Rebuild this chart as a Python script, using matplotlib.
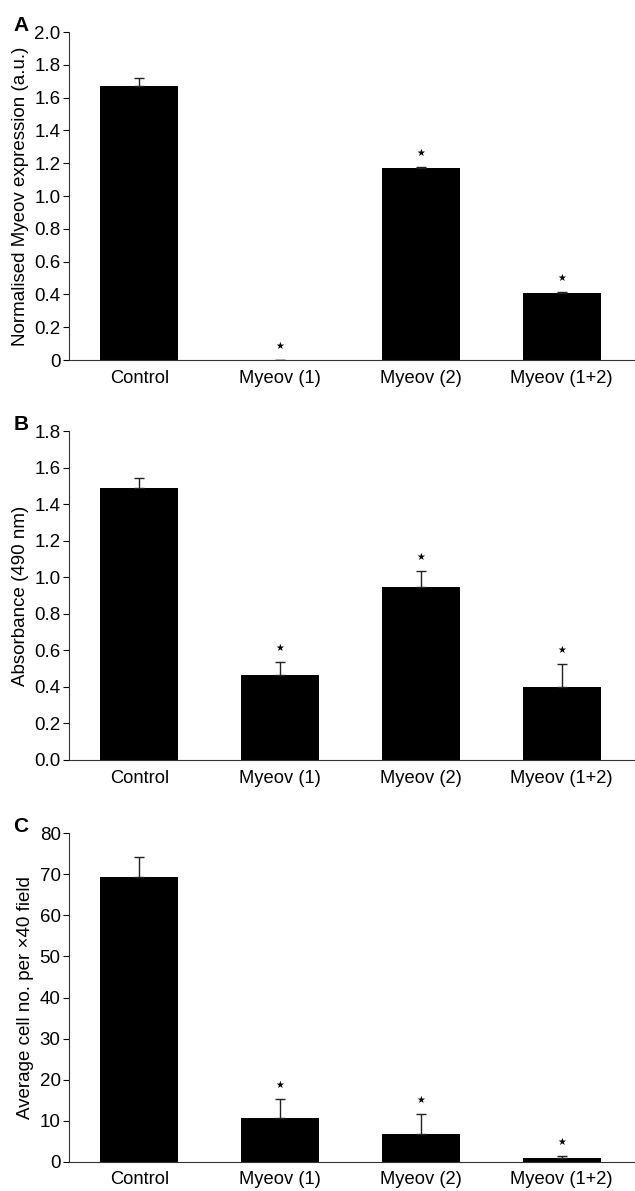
import numpy as np
import matplotlib
matplotlib.use('Agg')
import matplotlib.pyplot as plt

plt.rcParams['font.family'] = ['Liberation Sans', 'DejaVu Sans']

groups = ['Control', 'Myeov (1)', 'Myeov (2)', 'Myeov (1+2)']

# panel A: normalised Myeov expression
expr_mean = [1.67, 0.003, 1.17, 0.41]
expr_err = [0.05, 0.0, 0.005, 0.003]
expr_sig = [False, True, True, True]

# panel B: absorbance (490 nm)
abs_mean = [1.486, 0.465, 0.946, 0.40]
abs_err = [0.059, 0.07, 0.088, 0.125]
abs_sig = [False, True, True, True]

# panel C: cell counts
cell_mean = [69.3, 10.6, 6.75, 0.9]
cell_err = [5.0, 4.75, 4.8, 0.5]
cell_sig = [False, True, True, True]

panels = [
    ('A', expr_mean, expr_err, expr_sig, 'Normalised Myeov expression (a.u.)',
     np.arange(0, 2.01, 0.2), ['0', '0.2', '0.4', '0.6', '0.8', '1.0', '1.2', '1.4', '1.6', '1.8', '2.0'],
     [0.9731, 0.6977]),
    ('B', abs_mean, abs_err, abs_sig, 'Absorbance (490 nm)',
     np.arange(0, 1.81, 0.2), ['0.0', '0.2', '0.4', '0.6', '0.8', '1.0', '1.2', '1.4', '1.6', '1.8'],
     [0.6381, 0.3619]),
    ('C', cell_mean, cell_err, cell_sig, 'Average cell no. per \u00d740 field',
     np.arange(0, 81, 10), ['0', '10', '20', '30', '40', '50', '60', '70', '80'],
     [0.3003, 0.0246]),
]

fig = plt.figure(figsize=(6.35, 11.91), dpi=100)
x = np.arange(len(groups))

for letter, mean, err, sig, ylabel, ticks, ticklabels, (top, bottom) in panels:
    ax = fig.add_axes([0.1087, bottom, 1.0 - 0.1087, top - bottom])
    ax.bar(x, mean, width=0.555, color='black')
    ax.errorbar(x, mean, yerr=[np.zeros(len(err)), err], fmt='none',
                ecolor='#222222', elinewidth=1.0, capsize=3.5, capthick=1.0)
    for xi, m, e, s in zip(x, mean, err, sig):
        if s:
            ax.annotate('\u2605', (xi, m + e), xytext=(0, 10), textcoords='offset points',
                        ha='center', va='center', fontsize=7,
                        family=['DejaVu Sans'])
    ax.set_xlim(-0.5, 3.52)
    ax.set_ylim(ticks[0], ticks[-1])
    ax.set_yticks(ticks)
    ax.set_yticklabels(ticklabels)
    ax.set_xticks(x)
    ax.set_xticklabels(groups)
    ax.tick_params(axis='x', length=0, pad=7, labelsize=13.2)
    ax.tick_params(axis='y', length=4, width=0.8, direction='out', pad=2, labelsize=13.5)
    ax.spines['top'].set_visible(False)
    ax.spines['right'].set_visible(False)
    ax.spines['left'].set_color('#333333')
    ax.spines['bottom'].set_color('#333333')
    ax.set_ylabel(ylabel, fontsize=13.5, labelpad=4)
    fig.text(0.021, top + 7 / 1191, letter, fontsize=15, fontweight='bold',
             ha='left', va='center')

fig.savefig('out.png', dpi=100)
